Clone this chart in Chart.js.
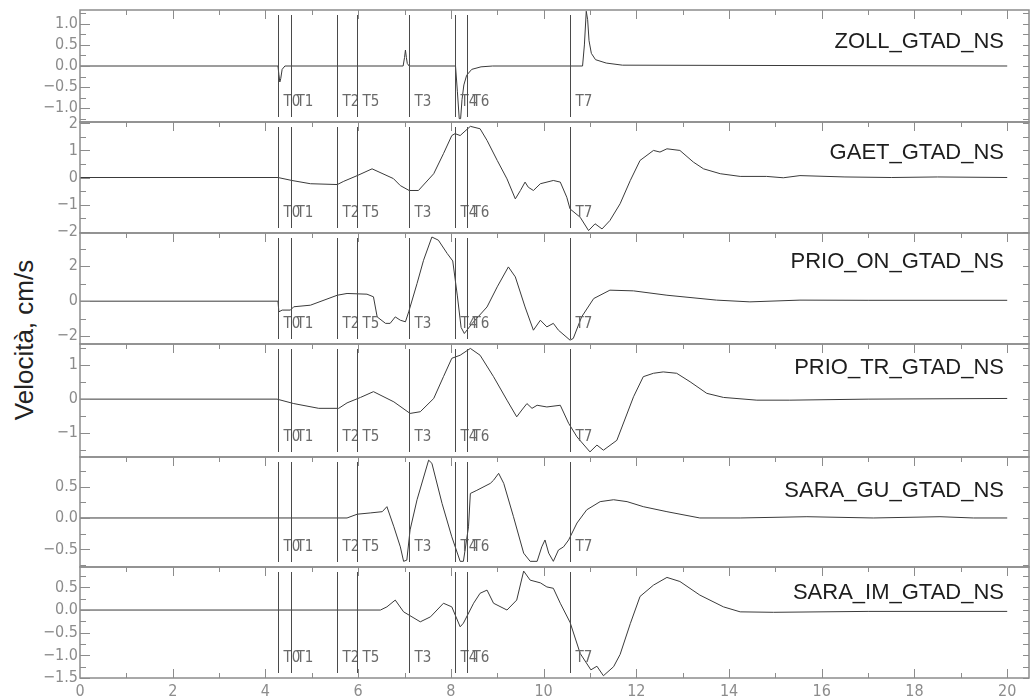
<!DOCTYPE html>
<html>
<head>
<meta charset="utf-8">
<script src="https://cdn.jsdelivr.net/npm/chart.js@4.4.1/dist/chart.umd.min.js"></script>
<style>
  body { margin: 0; background: #fff; width: 1032px; height: 699px; position: relative; overflow: hidden; }
  canvas { position: absolute; left: 0; }
  #ytitle {
    position: absolute; left: 24px; top: 340px;
    transform: translate(-50%, -50%) rotate(-90deg);
    white-space: nowrap; font: 26px 'Liberation Sans', Arial, sans-serif; color: #222;
  }
</style>
</head>
<body>
<div id="ytitle">Velocità, cm/s</div>
<script>
// ---- data ----
const panelNames = ['ZOLL_GTAD_NS', 'GAET_GTAD_NS', 'PRIO_ON_GTAD_NS', 'PRIO_TR_GTAD_NS', 'SARA_GU_GTAD_NS', 'SARA_IM_GTAD_NS'];
const markerNames = ['T0', 'T1', 'T2', 'T5', 'T3', 'T4', 'T6', 'T7'];
const markerTimes = [4.27, 4.56, 5.55, 5.98, 7.10, 8.09, 8.35, 10.57];
const xTickLabels = [0, 2, 4, 6, 8, 10, 12, 14, 16, 18, 20];

const yTickVals = [
  [-1, -0.5, 0, 0.5, 1],
  [-2, -1, 0, 1, 2],
  [-2, 0, 2],
  [-1, 0, 1],
  [-0.5, 0, 0.5],
  [-1.5, -1, -0.5, 0, 0.5]
];
const yMin = [-1.33, -2.05, -2.45, -1.70, -0.78, -1.50];
const yMax = [1.33, 2.05, 3.90, 1.62, 0.97, 0.95];
const yMinorStep = [0.25, 0.5, 1, 0.5, 0.25, 0.25];
const yDecimals = [1, 0, 0, 0, 1, 1];

const zollT = [0, 4.27, 4.29, 4.31, 4.33, 4.36, 4.42, 6.97, 7.0, 7.02, 7.04, 7.06, 7.1, 8.10, 8.14, 8.18, 8.21, 8.24, 8.28, 8.34, 8.45, 8.65, 8.9, 10.84, 10.88, 10.92, 10.95, 10.98, 11.03, 11.12, 11.35, 11.7, 20];
const zollV = [0, 0, -0.2, -0.38, -0.3, -0.08, 0, 0, 0.2, 0.38, 0.2, 0.06, 0, 0, -0.6, -1.25, -1.25, -0.8, -0.45, -0.22, -0.08, -0.02, 0, 0, 0.5, 1.3, 1.1, 0.6, 0.3, 0.15, 0.07, 0.02, 0];

const gaetT = [0, 4.27, 4.57, 4.97, 5.55, 5.69, 5.98, 6.3, 6.76, 6.91, 7.1, 7.3, 7.63, 7.84, 8.02, 8.09, 8.2, 8.42, 8.63, 8.78, 9.0, 9.21, 9.39, 9.5, 9.6, 9.67, 9.78, 9.93, 10.21, 10.36, 10.5, 10.57, 10.79, 10.97, 11.11, 11.26, 11.43, 11.65, 11.87, 12.08, 12.37, 12.51, 12.66, 12.94, 13.23, 13.45, 13.81, 14.24, 14.81, 15.17, 15.53, 16.5, 17.5, 18.5, 20];
const gaetV = [0, 0, -0.11, -0.23, -0.26, -0.14, 0.07, 0.32, -0.04, -0.3, -0.48, -0.48, 0.14, 0.88, 1.55, 1.62, 1.55, 1.89, 1.8, 1.37, 0.63, -0.05, -0.79, -0.48, -0.17, -0.36, -0.48, -0.23, -0.11, -0.17, -0.73, -1.16, -1.47, -1.96, -1.71, -1.9, -1.59, -0.97, -0.11, 0.63, 1.0, 0.94, 1.06, 1.0, 0.57, 0.32, 0.14, 0.04, 0.04, -0.01, 0.07, 0.02, 0.0, 0.02, 0];

const prioOnT = [0, 4.27, 4.29, 4.36, 4.54, 4.61, 4.97, 5.55, 5.76, 6.19, 6.33, 6.41, 6.59, 6.69, 6.8, 6.91, 7.02, 7.09, 7.27, 7.41, 7.59, 7.73, 7.92, 8.04, 8.14, 8.22, 8.29, 8.46, 8.78, 9.0, 9.24, 9.39, 9.6, 9.78, 9.93, 10.07, 10.21, 10.32, 10.57, 10.64, 10.82, 11.08, 11.43, 11.94, 12.66, 13.73, 14.45, 15.53, 17, 20];
const prioOnV = [0, 0, -0.61, -0.51, -0.51, -0.32, -0.23, 0.34, 0.44, 0.4, 0.25, -0.9, -1.27, -1.27, -0.9, -1.09, -1.18, -0.61, 1.01, 2.34, 3.67, 3.49, 2.73, 2.3, 0.3, -1.5, -1.85, -1.27, -0.33, 0.82, 1.96, 1.39, -0.33, -1.66, -1.09, -1.47, -1.27, -1.66, -2.23, -2.13, -0.9, 0.15, 0.63, 0.59, 0.34, 0.06, -0.04, 0.06, 0.05, 0.05];

const prioTrT = [0, 4.25, 4.61, 5.15, 5.58, 5.76, 6.05, 6.33, 6.77, 7.12, 7.34, 7.63, 7.84, 8.02, 8.2, 8.42, 8.63, 8.92, 9.21, 9.42, 9.53, 9.64, 9.75, 9.86, 10.07, 10.36, 10.54, 10.72, 11.0, 11.15, 11.29, 11.58, 11.94, 12.15, 12.37, 12.58, 12.87, 13.16, 13.52, 13.88, 14.6, 15.31, 17, 20];
const prioTrV = [0, 0, -0.13, -0.27, -0.27, -0.11, 0.05, 0.22, -0.08, -0.42, -0.37, 0.02, 0.66, 1.2, 1.29, 1.49, 1.29, 0.66, -0.03, -0.52, -0.32, -0.13, -0.27, -0.18, -0.23, -0.18, -0.71, -1.11, -1.55, -1.35, -1.5, -1.21, 0.07, 0.66, 0.76, 0.8, 0.76, 0.51, 0.17, 0.05, -0.03, -0.03, 0.0, 0.02];

const saraGuT = [0, 5.76, 5.98, 6.26, 6.52, 6.62, 6.77, 6.91, 6.98, 7.05, 7.12, 7.27, 7.52, 7.59, 7.81, 8.02, 8.2, 8.27, 8.38, 8.42, 8.56, 8.85, 8.92, 9.03, 9.14, 9.35, 9.57, 9.71, 9.86, 9.96, 10.03, 10.11, 10.21, 10.32, 10.43, 10.54, 10.72, 10.93, 11.22, 11.51, 11.8, 12.15, 12.66, 13.37, 14.24, 15.68, 17.11, 18.55, 19.27, 20];
const saraGuV = [0, 0, 0.06, 0.08, 0.1, 0.18, -0.14, -0.46, -0.69, -0.67, -0.19, 0.29, 0.92, 0.87, 0.23, -0.3, -0.69, -0.69, -0.14, 0.39, 0.44, 0.55, 0.6, 0.71, 0.55, 0.02, -0.56, -0.69, -0.69, -0.46, -0.35, -0.56, -0.69, -0.51, -0.46, -0.35, -0.08, 0.13, 0.26, 0.29, 0.26, 0.18, 0.1, 0, 0, 0.02, 0, 0.02, 0, 0];

const saraImT = [0, 6.48, 6.62, 6.8, 6.98, 7.34, 7.56, 7.84, 8.02, 8.2, 8.27, 8.49, 8.63, 8.78, 8.92, 9.21, 9.42, 9.57, 9.71, 9.93, 10.07, 10.21, 10.36, 10.57, 10.79, 11.02, 11.15, 11.29, 11.51, 11.65, 11.87, 12.08, 12.37, 12.66, 12.94, 13.37, 13.88, 14.24, 14.96, 17, 20];
const saraImV = [0, 0, 0.07, 0.22, -0.04, -0.26, -0.15, 0.15, 0.07, -0.37, -0.29, 0.15, 0.37, 0.44, 0.15, 0, 0.22, 0.86, 0.66, 0.6, 0.51, 0.48, 0.15, -0.27, -0.96, -1.32, -1.24, -1.45, -1.25, -0.98, -0.3, 0.3, 0.55, 0.72, 0.63, 0.33, 0.07, -0.04, -0.05, -0.03, -0.03];

const seriesT = [zollT, gaetT, prioOnT, prioTrT, saraGuT, saraImT];
const seriesV = [zollV, gaetV, prioOnV, prioTrV, saraGuV, saraImV];

// ---- layout ----
const panelTop = [10, 122, 233, 344, 457, 567, 678];
const nameDy = [32, 31, 29, 24, 34, 26];
const narrow = "'Liberation Sans Narrow', 'DejaVu Sans Condensed', 'Arial Narrow', sans-serif";

Chart.defaults.font.family = narrow;

function fmt(v, d) {
  const s = Math.abs(v).toFixed(d);
  return (v < 0 ? '\u2212' : '') + s;
}

const deco = {
  id: 'panelDeco',
  afterDatasetsDraw(chart, args, opts) {
    const i = opts.index;
    const last = i === panelNames.length - 1;
    const { ctx, chartArea: a } = chart;
    const xs = chart.scales.x, ys = chart.scales.y;
    ctx.save();

    // event markers
    ctx.strokeStyle = '#4a4a4a';
    ctx.lineWidth = 1;
    ctx.fillStyle = '#6a6a6a';
    ctx.font = '15px ' + narrow;
    ctx.textBaseline = 'middle';
    ctx.textAlign = 'left';
    markerTimes.forEach((t, k) => {
      const px = Math.round(xs.getPixelForValue(t)) + 0.5;
      ctx.beginPath();
      ctx.moveTo(px, a.top + 5);
      ctx.lineTo(px, a.bottom - 5);
      ctx.stroke();
      ctx.fillText(markerNames[k], px + 5, a.bottom - 20);
    });

    // frame
    ctx.strokeStyle = '#8c8c8c';
    ctx.lineWidth = 1.5;
    ctx.strokeRect(a.left, a.top, a.right - a.left, a.bottom - a.top);

    // inside ticks, y
    ctx.lineWidth = 1;
    const st = yMinorStep[i];
    for (let k = Math.ceil(yMin[i] / st - 1e-9); k * st <= yMax[i] + 1e-9; k++) {
      const v = k * st;
      const py = Math.round(ys.getPixelForValue(v)) + 0.5;
      const major = yTickVals[i].some(m => Math.abs(m - v) < 1e-9);
      ctx.beginPath();
      ctx.moveTo(a.left, py); ctx.lineTo(a.left + (major ? 10 : 6), py);
      ctx.moveTo(a.right, py); ctx.lineTo(a.right - 6, py);
      ctx.stroke();
    }
    // inside ticks, x
    for (let k = 1; k <= 20; k++) {
      const px = Math.round(xs.getPixelForValue(k)) + 0.5;
      const len = k % 2 === 0 ? 9 : 5;
      ctx.beginPath();
      ctx.moveTo(px, a.top); ctx.lineTo(px, a.top + len);
      if (last) { ctx.moveTo(px, a.bottom); ctx.lineTo(px, a.bottom - len); }
      ctx.stroke();
    }

    // station name
    ctx.fillStyle = '#1e1e1e';
    ctx.font = "22px 'Liberation Sans', Arial, sans-serif";
    ctx.textAlign = 'right';
    ctx.fillText(panelNames[i], a.right - 25, a.top + nameDy[i]);
    ctx.restore();
  }
};

panelNames.forEach((name, i) => {
  const last = i === panelNames.length - 1;
  const top = panelTop[i], bot = panelTop[i + 1];
  const padT = 12, padB = last ? 21 : 12;
  const cv = document.createElement('canvas');
  cv.width = 1032;
  cv.height = bot - top + padT + padB;
  cv.style.top = (top - padT) + 'px';
  document.body.appendChild(cv);

  new Chart(cv, {
    type: 'line',
    data: {
      datasets: [{
        label: name,
        data: seriesT[i].map((x, j) => ({ x: x, y: seriesV[i][j] })),
        borderColor: '#3a3a3a',
        borderWidth: 1,
        pointRadius: 0,
        tension: 0,
        fill: false
      }]
    },
    options: {
      responsive: false,
      animation: false,
      events: [],
      layout: { padding: { top: padT, bottom: last ? 0 : padB, left: 0, right: 3 } },
      plugins: {
        legend: { display: false },
        tooltip: { enabled: false },
        panelDeco: { index: i }
      },
      scales: {
        x: {
          type: 'linear', min: 0, max: 20.47,
          grid: { display: false, drawTicks: false },
          border: { display: false },
          ticks: { display: last, color: '#8c8c8c', font: { size: 16 }, padding: 4, maxRotation: 0, autoSkip: false },
          afterBuildTicks: s => { s.ticks = xTickLabels.map(v => ({ value: v })); },
          afterFit: s => { s.height = last ? 21 : 0; }
        },
        y: {
          type: 'linear', min: yMin[i], max: yMax[i],
          grid: { display: false, drawTicks: false },
          border: { display: false },
          ticks: { color: '#8c8c8c', font: { size: 16 }, padding: 2, callback: v => fmt(v, yDecimals[i]) },
          afterBuildTicks: s => { s.ticks = yTickVals[i].map(v => ({ value: v })); },
          afterFit: s => { s.width = 80; }
        }
      }
    },
    plugins: [deco]
  });
});
</script>
</body>
</html>
